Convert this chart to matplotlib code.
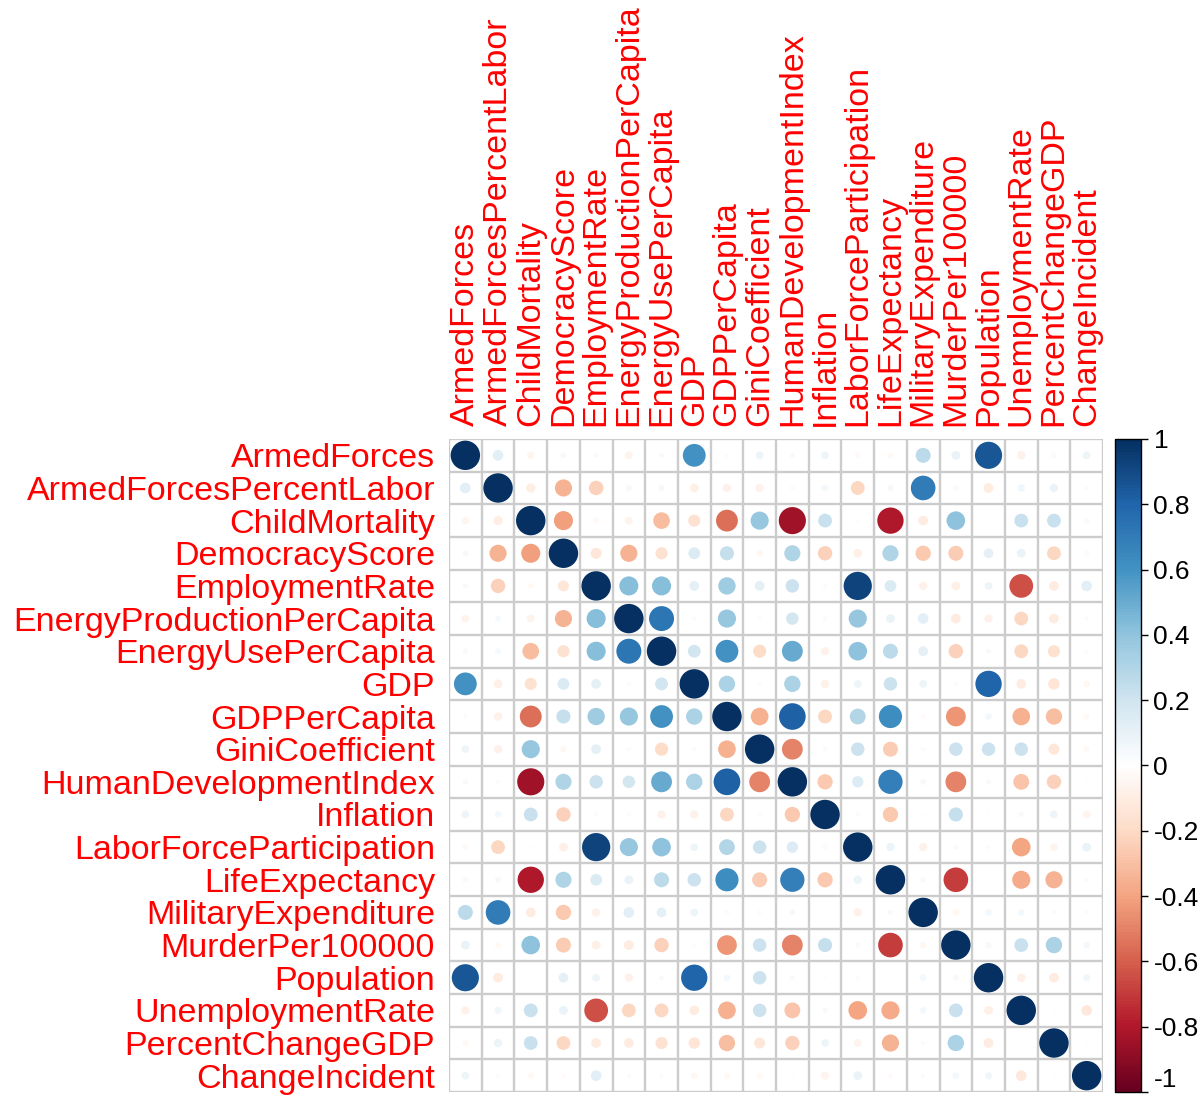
import numpy as np
import matplotlib
matplotlib.use("Agg")
import matplotlib.pyplot as plt
import matplotlib.colors as colors
from matplotlib.patches import Circle

names = ["ArmedForces", "ArmedForcesPercentLabor", "ChildMortality", "DemocracyScore",
         "EmploymentRate", "EnergyProductionPerCapita", "EnergyUsePerCapita", "GDP",
         "GDPPerCapita", "GiniCoefficient", "HumanDevelopmentIndex", "Inflation",
         "LaborForceParticipation", "LifeExpectancy", "MilitaryExpenditure",
         "MurderPer100000", "Population", "UnemploymentRate", "PercentChangeGDP",
         "ChangeIncident"]

# upper triangle, row i holds r(i, j) for j > i
upper = [
    [0.13, -0.06, 0.04, 0.03, -0.07, 0.03, 0.60, 0.02, 0.07, 0.03, 0.07, -0.04, -0.04, 0.26, 0.09, 0.85, -0.08, -0.04, 0.07],
    [-0.10, -0.34, -0.24, 0.04, 0.04, -0.09, -0.08, -0.08, 0.02, 0.05, -0.22, 0.04, 0.70, -0.04, -0.11, 0.06, 0.08, 0.02],
    [-0.42, -0.04, -0.07, -0.32, -0.17, -0.55, 0.38, -0.85, 0.22, -0.02, -0.80, -0.11, 0.40, 0.00, 0.22, 0.22, -0.04],
    [-0.14, -0.34, -0.17, 0.16, 0.23, -0.05, 0.30, -0.24, -0.09, 0.30, -0.27, -0.26, 0.11, 0.09, -0.22, -0.03],
    [0.42, 0.42, 0.11, 0.35, 0.11, 0.21, 0.02, 0.92, 0.16, -0.08, -0.09, 0.07, -0.65, -0.11, 0.13],
    [0.72, 0.02, 0.38, 0.02, 0.18, 0.02, 0.38, 0.09, 0.13, -0.11, -0.08, -0.22, -0.11, 0.02],
    [0.19, 0.60, -0.20, 0.50, -0.08, 0.40, 0.26, 0.11, -0.24, 0.03, -0.22, -0.17, 0.02],
    [0.31, 0.02, 0.31, -0.08, 0.07, 0.21, 0.07, 0.02, 0.80, -0.11, -0.15, -0.05],
    [-0.36, 0.82, -0.22, 0.29, 0.62, -0.03, -0.45, 0.05, -0.36, -0.31, -0.04],
    [-0.50, 0.02, 0.21, -0.26, 0.02, 0.21, 0.21, 0.21, -0.14, -0.04],
    [-0.27, 0.15, 0.68, 0.04, -0.50, 0.03, -0.29, -0.24, 0.01],
    [-0.03, -0.27, 0.01, 0.23, 0.01, 0.03, 0.07, -0.07],
    [0.08, -0.08, 0.03, 0.02, -0.40, -0.07, 0.09],
    [0.03, -0.70, 0.01, -0.38, -0.34, -0.03],
    [-0.05, 0.05, 0.05, 0.02, 0.02],
    [0.04, 0.22, 0.31, 0.05],
    [-0.09, -0.11, 0.06],
    [0.01, -0.13],
    [0.01],
    [],
]

n = len(names)
corr = np.eye(n)
for i, row in enumerate(upper):
    for k, v in enumerate(row):
        corr[i, i + 1 + k] = v
        corr[i + 1 + k, i] = v

col2 = ["#67001F", "#B2182B", "#D6604D", "#F4A582", "#FDDBC7", "#FFFFFF",
        "#D1E5F0", "#92C5DE", "#4393C3", "#2166AC", "#053061"]
cmap = colors.LinearSegmentedColormap.from_list("corr", col2, N=200)
norm = colors.Normalize(-1, 1)

fig = plt.figure(figsize=(12.01, 11.04), dpi=100)
ax = fig.add_axes([449 / 1201, 1 - 1092 / 1104, 654 / 1201, 653 / 1104])
ax.set_xlim(0, n)
ax.set_ylim(n, 0)

for i in range(n):
    for j in range(n):
        r = corr[i, j]
        ax.add_patch(Circle((j + 0.5, i + 0.5), 0.45 * np.sqrt(abs(r)),
                            facecolor=cmap(norm(r)), edgecolor="none", zorder=2))

gc = "#CCCCCC"
for k in range(n + 1):
    ax.plot([0, n], [k, k], color=gc, lw=1.7, zorder=1)
    ax.plot([k, k], [0, n], color=gc, lw=1.7, zorder=1)

for s in ax.spines.values():
    s.set_visible(False)

font = "Liberation Sans"
ax.set_xticks(np.arange(n) + 0.5)
ax.set_yticks(np.arange(n) + 0.5)
ax.set_yticklabels(names, color="red", fontsize=24.5, family=font)
ax.xaxis.tick_top()
ax.set_xticklabels(names, color="red", fontsize=24.5, family=font, rotation=90)
ax.tick_params(length=0)
ax.tick_params(axis="y", pad=10)
ax.tick_params(axis="x", pad=9)

cax = fig.add_axes([1115 / 1201, 1 - 1092 / 1104, 26 / 1201, 653 / 1104])
cb = fig.colorbar(plt.cm.ScalarMappable(norm=norm, cmap=cmap), cax=cax)
cb.set_ticks(np.round(np.arange(-1, 1.01, 0.2), 1))
cb.set_ticklabels(["-1", "-0.8", "-0.6", "-0.4", "-0.2", "0", "0.2", "0.4", "0.6", "0.8", "1"])
cax.tick_params(labelsize=19, length=5, width=1, pad=4)
for lab in cax.get_yticklabels():
    lab.set_family(font)
    if lab.get_text() == "-1":
        lab.set_verticalalignment("bottom")
cb.outline.set_linewidth(1)

fig.savefig("out.png", dpi=100, facecolor="white")
